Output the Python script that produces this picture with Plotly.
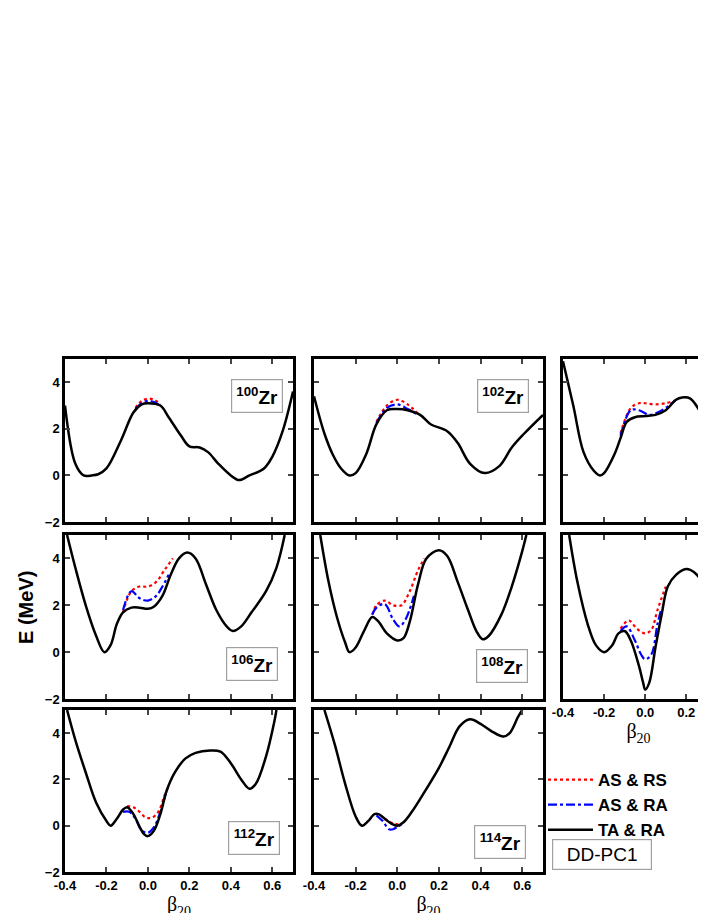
import plotly.graph_objects as go

# ---- data: (beta, E) ----
zr100_b = [-0.4,-0.35,-0.31,-0.27,-0.24,-0.2,-0.13,-0.07,-0.03,0.0,0.06,0.1,0.16,0.2,0.25,0.29,0.34,0.4,0.44,0.49,0.56,0.6,0.65,0.7]
zr100_e = [3.0,0.5,0.0,0.0,0.05,0.3,1.5,2.7,3.05,3.1,3.0,2.5,1.7,1.25,1.2,1.0,0.5,0.0,-0.2,0.0,0.3,0.8,1.9,3.6]
zr100_rb = [-0.06,-0.03,0.0,0.03,0.06]; zr100_re = [2.9,3.2,3.3,3.25,3.05]
zr100_ab = [-0.06,-0.03,0.0,0.03,0.06]; zr100_ae = [2.85,3.1,3.2,3.15,3.0]

zr102_b = [-0.4,-0.35,-0.31,-0.27,-0.23,-0.2,-0.15,-0.1,-0.05,0.0,0.05,0.11,0.16,0.24,0.29,0.35,0.42,0.49,0.55,0.61,0.7]
zr102_e = [3.4,1.8,0.9,0.3,0.0,0.1,0.9,2.2,2.8,2.85,2.8,2.6,2.2,1.9,1.4,0.5,0.1,0.4,1.2,1.8,2.6]
zr102_rb = [-0.1,-0.05,0.0,0.05,0.1]; zr102_re = [2.3,3.0,3.25,3.05,2.65]
zr102_ab = [-0.1,-0.05,0.0,0.05,0.1]; zr102_ae = [2.25,2.9,3.05,2.85,2.6]

zr104_b = [-0.4,-0.35,-0.3,-0.25,-0.22,-0.2,-0.15,-0.12,-0.09,-0.05,0.0,0.05,0.1,0.15,0.18,0.22,0.27,0.32,0.335]
zr104_e = [4.9,3.0,1.0,0.2,0.0,0.1,0.9,1.6,2.3,2.5,2.55,2.6,2.8,3.25,3.35,3.3,2.7,1.9,1.5]
zr104_rb = [-0.12,-0.07,-0.03,0.0,0.05,0.1,0.14]; zr104_re = [1.8,2.9,3.1,3.1,3.05,3.1,3.2]
zr104_ab = [-0.12,-0.07,-0.03,0.02,0.06,0.1,0.15]; zr104_ae = [1.7,2.8,2.8,2.6,2.7,2.9,3.25]

zr106_b = [-0.39,-0.35,-0.3,-0.25,-0.21,-0.18,-0.15,-0.12,-0.08,-0.04,0.0,0.03,0.07,0.11,0.15,0.19,0.23,0.28,0.33,0.38,0.41,0.45,0.5,0.57,0.62,0.66]
zr106_e = [5.0,3.6,2.0,0.7,0.0,0.3,1.2,1.7,1.9,1.9,1.85,1.95,2.4,3.3,4.0,4.25,4.0,2.9,1.8,1.1,0.9,1.1,1.7,2.6,3.6,5.0]
zr106_rb = [-0.12,-0.08,-0.04,0.0,0.04,0.08,0.12]; zr106_re = [1.7,2.6,2.8,2.8,3.0,3.5,4.0]
zr106_ab = [-0.12,-0.08,-0.04,0.0,0.04,0.07,0.1]; zr106_ae = [1.8,2.6,2.3,2.2,2.4,2.8,3.3]

zr108_b = [-0.37,-0.33,-0.29,-0.25,-0.23,-0.2,-0.16,-0.12,-0.09,-0.05,0.0,0.03,0.06,0.1,0.14,0.2,0.24,0.29,0.34,0.38,0.41,0.44,0.5,0.55,0.6,0.62]
zr108_e = [5.0,3.0,1.5,0.4,0.0,0.2,0.9,1.5,1.3,0.8,0.5,0.6,1.3,2.9,4.0,4.35,4.1,3.0,1.8,0.9,0.55,0.7,1.6,2.8,4.3,5.0]
zr108_rb = [-0.12,-0.1,-0.06,-0.02,0.02,0.06,0.1,0.13]; zr108_re = [1.6,2.0,2.2,2.0,2.0,2.6,3.5,4.0]
zr108_ab = [-0.12,-0.1,-0.06,-0.02,0.01,0.04,0.08]; zr108_ae = [1.6,1.9,2.05,1.4,1.1,1.4,2.4]

zr110_b = [-0.37,-0.33,-0.28,-0.24,-0.2,-0.16,-0.13,-0.1,-0.07,-0.03,-0.01,0.0,0.02,0.05,0.08,0.11,0.15,0.2,0.24,0.3,0.335]
zr110_e = [5.0,3.0,1.2,0.3,0.0,0.3,0.8,0.9,0.5,-0.6,-1.3,-1.6,-1.3,0.2,1.6,2.8,3.3,3.55,3.4,2.7,2.0]
zr110_rb = [-0.12,-0.08,-0.04,0.0,0.03,0.06,0.1]; zr110_re = [1.0,1.35,1.0,0.8,0.95,1.8,2.8]
zr110_ab = [-0.12,-0.09,-0.05,-0.02,0.0,0.03,0.06,0.08]; zr110_ae = [0.9,1.1,0.5,-0.1,-0.3,-0.1,1.2,1.9]

zr112_b = [-0.39,-0.35,-0.3,-0.25,-0.2,-0.18,-0.15,-0.12,-0.1,-0.07,-0.04,-0.02,0.0,0.03,0.06,0.09,0.13,0.18,0.23,0.3,0.35,0.4,0.45,0.49,0.52,0.57,0.61,0.62]
zr112_e = [5.0,3.7,2.3,1.0,0.2,0.0,0.3,0.7,0.8,0.5,-0.05,-0.35,-0.45,-0.2,0.5,1.5,2.3,2.9,3.15,3.25,3.2,2.7,2.0,1.6,1.8,3.0,4.5,5.0]
zr112_rb = [-0.1,-0.07,-0.04,-0.01,0.02,0.05,0.08,0.1]; zr112_re = [0.85,0.8,0.6,0.35,0.35,0.6,1.3,1.7]
zr112_ab = [-0.12,-0.09,-0.06,-0.03,0.0,0.03,0.06,0.09]; zr112_ae = [0.6,0.6,0.3,-0.2,-0.3,-0.05,0.6,1.5]

zr114_b = [-0.35,-0.3,-0.25,-0.2,-0.17,-0.14,-0.11,-0.09,-0.06,-0.03,0.0,0.03,0.07,0.12,0.2,0.25,0.3,0.35,0.4,0.45,0.51,0.54,0.58,0.6]
zr114_e = [5.0,3.5,1.8,0.4,0.0,0.2,0.5,0.5,0.3,0.1,0.0,0.15,0.6,1.3,2.5,3.4,4.3,4.6,4.4,4.1,3.85,4.0,4.7,5.0]
zr114_rb = [-0.06,-0.02,0.02]; zr114_re = [0.3,0.1,0.05]
zr114_ab = [-0.1,-0.07,-0.04,-0.02,0.0,0.02]; zr114_ae = [0.45,0.2,-0.15,-0.15,-0.05,0.05]

labels = ["100","102","104","106","108","110","112","114"]
x_ticks = [-0.4,-0.2,0.0,0.2,0.4,0.6]
y_ticks = [-2,0,2,4]

panels = [
    (zr100_b,zr100_e,zr100_rb,zr100_re,zr100_ab,zr100_ae),
    (zr102_b,zr102_e,zr102_rb,zr102_re,zr102_ab,zr102_ae),
    (zr104_b,zr104_e,zr104_rb,zr104_re,zr104_ab,zr104_ae),
    (zr106_b,zr106_e,zr106_rb,zr106_re,zr106_ab,zr106_ae),
    (zr108_b,zr108_e,zr108_rb,zr108_re,zr108_ab,zr108_ae),
    (zr110_b,zr110_e,zr110_rb,zr110_re,zr110_ab,zr110_ae),
    (zr112_b,zr112_e,zr112_rb,zr112_re,zr112_ab,zr112_ae),
    (zr114_b,zr114_e,zr114_rb,zr114_re,zr114_ab,zr114_ae),
]

W, H = 706, 913
xdom = [(57/W, 285/W), (306/W, 535/W), (555/W, 1.0)]
ydom = [(1-514/H, 1-351/H), (1-691/H, 1-527/H), (1-864/H, 1-702/H)]
cells = [(0,0),(0,1),(0,2),(1,0),(1,1),(1,2),(2,0),(2,1)]
# label positions inside panel domain (fraction)
label_pos = {0:(0.84,0.776),1:(0.827,0.776),3:(0.82,0.213),4:(0.819,0.20),6:(0.827,0.207),7:(0.814,0.188)}

fig = go.Figure()
tf = dict(family="Liberation Sans", size=13, color="black", weight="bold")
for i, (r, c) in enumerate(cells):
    n = i + 1
    xa = "x" if n == 1 else f"x{n}"
    ya = "y" if n == 1 else f"y{n}"
    b, e, rb, re_, ab, ae = panels[i]
    first = (i == 0)
    fig.add_trace(go.Scatter(x=rb, y=re_, mode="lines", xaxis=xa, yaxis=ya, name="AS & RS",
                             line=dict(color="red", width=2.2, dash="dot", shape="spline"), showlegend=first))
    fig.add_trace(go.Scatter(x=ab, y=ae, mode="lines", xaxis=xa, yaxis=ya, name="AS & RA",
                             line=dict(color="blue", width=2.2, dash="dashdot", shape="spline"), showlegend=first))
    fig.add_trace(go.Scatter(x=b, y=e, mode="lines", xaxis=xa, yaxis=ya, name="TA & RA",
                             line=dict(color="black", width=2.5, shape="spline"), showlegend=first))
    showx = (r == 2) or (r == 1 and c == 2)
    xrange_ = [-0.4, 0.335] if c == 2 else [-0.4, 0.7]
    fig.layout[f"xaxis{n}"] = dict(domain=xdom[c], anchor=ya, range=xrange_, tickvals=x_ticks,
        ticktext=[f"{v:.1f}" for v in x_ticks], showticklabels=showx, ticks="inside", ticklen=5,
        tickwidth=2, showline=True, linewidth=2.5, linecolor="black", mirror="ticks",
        showgrid=False, zeroline=False, tickfont=tf, automargin=False,
        title=dict(text="β<sub>20</sub>", font=dict(family="Liberation Serif", size=20, color="black"), standoff=2) if showx else None)
    fig.layout[f"yaxis{n}"] = dict(domain=ydom[r], anchor=xa, range=[-2, 5], tickvals=y_ticks,
        showticklabels=(c == 0), ticks="inside", ticklen=5, tickwidth=2, showline=True, linewidth=2.5,
        linecolor="black", mirror=("ticks" if c < 2 else False), showgrid=False, zeroline=False,
        tickfont=tf, automargin=False)
    if i in label_pos:
        lx, ly = label_pos[i]
        fig.add_annotation(xref=f"{xa} domain", yref=f"{ya} domain", x=lx, y=ly, showarrow=False,
                           xanchor="center", yanchor="middle",
                           text=f"<sup>{labels[i]}</sup>Zr", width=46, height=28,
                           bordercolor="#a0a0a0", borderwidth=1.2, borderpad=2, bgcolor="white",
                           font=dict(family="Liberation Sans", size=19, color="black", weight="bold"))

# DD-PC1 box (relative to 114Zr panel)
fig.add_annotation(xref="x8 domain", yref="y8 domain", x=1.258, y=0.108, showarrow=False,
                   xanchor="center", yanchor="middle", text="DD-PC1", width=94, height=25,
                   bordercolor="#a0a0a0", borderwidth=1.2, borderpad=2,
                   font=dict(family="Liberation Sans", size=19, color="black"))

fig.add_annotation(xref="x4 domain", yref="y4 domain", x=-0.171, y=0.555, showarrow=False, textangle=-90,
                   xanchor="center", yanchor="middle",
                   text="E (MeV)", font=dict(family="Liberation Sans", size=20, color="black", weight="bold"))

fig.update_layout(width=W, height=H, margin=dict(l=0, r=0, t=0, b=0, autoexpand=False), plot_bgcolor="white",
                  paper_bgcolor="white",
                  legend=dict(x=535/W, y=1-754/H, xanchor="left", yanchor="top", bgcolor="rgba(0,0,0,0)",
                              font=dict(family="Liberation Sans", size=17, color="black", weight="bold"),
                              tracegroupgap=0, itemwidth=45))
fig.write_html("out.html")
